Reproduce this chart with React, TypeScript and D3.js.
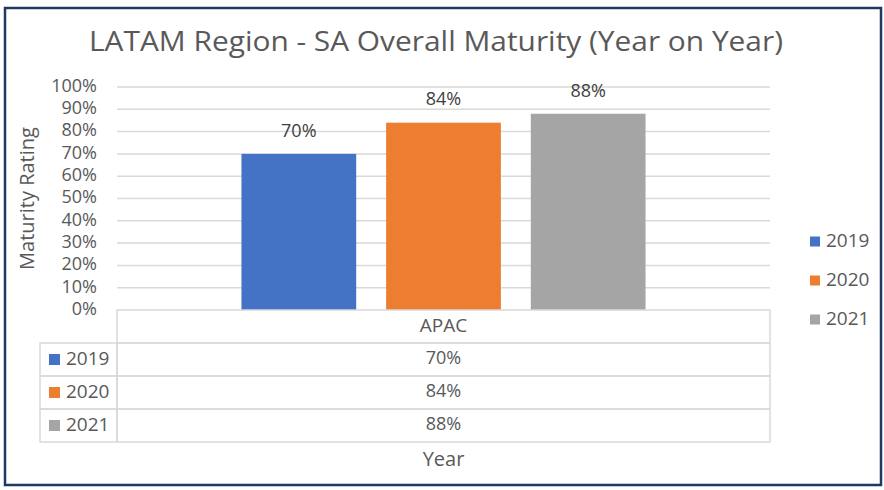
import { scaleBand, scaleLinear, range } from 'd3'

// Excel-style clustered column chart with a data table under the axis.

const categories = ['APAC']
const years = ['2019', '2020', '2021']
const values = [70, 84, 88]
const colors = ['#4472C4', '#ED7D31', '#A5A5A5']
const yTickValues = range(0, 101, 10)

const TEXT = '#595959'
const GRID = '#d9d9d9'
const FONT = '"Open Sans", sans-serif'

export default function App() {
  const W = 884
  const H = 490
  const plot = { left: 117, right: 770, top: 87, bottom: 310 }
  const y = scaleLinear().domain([0, 100]).range([plot.bottom, plot.top])
  const x0 = scaleBand().domain(categories).range([plot.left, plot.right]).paddingInner(0).paddingOuter(0.308)
  const x1 = scaleBand().domain(years).range([0, x0.bandwidth()]).paddingInner(0.207).paddingOuter(0)

  const rowH = 33
  const tableTop = plot.bottom
  const keyLeft = 40
  const rows = scaleBand().domain(['head', ...years]).range([tableTop, tableTop + rowH * 4])

  const legendY = scaleBand().domain(years).range([222, 339])

  return (
    <svg
      width={W}
      height={H}
      viewBox={`0 0 ${W} ${H}`}
      style={{ position: 'absolute', left: 0, top: 0, fontFamily: FONT }}
    >
      <rect x={0} y={0} width={W} height={H} fill="#fff" />
      <rect x={5} y={8} width={876} height={477} fill="#fff" stroke="#1f3864" strokeWidth={2.5} />

      <text x={436} y={51} textAnchor="middle" fill={TEXT} fontSize={28} textLength={694} lengthAdjust="spacingAndGlyphs">
        LATAM Region - SA Overall Maturity (Year on Year)
      </text>

      {yTickValues.map((t) => (
        <g key={t}>
          {t > 0 && (
            <line x1={plot.left} x2={plot.right} y1={y(t)} y2={y(t)} stroke={GRID} strokeWidth={1.5} />
          )}
          <text x={97} y={y(t)} textAnchor="end" dominantBaseline="middle" fill={TEXT} fontSize={18}>
            {t}%
          </text>
        </g>
      ))}

      <text
        transform={`translate(29, ${(plot.top + plot.bottom) / 2}) rotate(-90)`}
        textAnchor="middle"
        dominantBaseline="middle"
        fill={TEXT}
        fontSize={20}
      >
        Maturity Rating
      </text>

      {categories.map((c) =>
        years.map((yr, i) => {
          const bx = (x0(c) ?? 0) + (x1(yr) ?? 0)
          return (
            <g key={c + yr}>
              <rect x={bx} y={y(values[i])} width={x1.bandwidth()} height={plot.bottom - y(values[i])} fill={colors[i]} />
              <text x={bx + x1.bandwidth() / 2} y={y(values[i]) - 22} textAnchor="middle" dominantBaseline="middle" fill="#404040" fontSize={18}>
                {values[i]}%
              </text>
            </g>
          )
        })
      )}

      {/* data table */}
      <g stroke={GRID} strokeWidth={1.5} fill="none">
        <rect x={plot.left} y={rows('head')} width={plot.right - plot.left} height={rowH} />
        {years.map((yr) => (
          <g key={yr}>
            <rect x={keyLeft} y={rows(yr)} width={plot.left - keyLeft} height={rowH} />
            <rect x={plot.left} y={rows(yr)} width={plot.right - plot.left} height={rowH} />
          </g>
        ))}
      </g>
      {categories.map((c) => (
        <text key={c} x={(x0(c) ?? 0) + x0.bandwidth() / 2} y={(rows('head') ?? 0) + rowH / 2} textAnchor="middle" dominantBaseline="middle" fill={TEXT} fontSize={19}>
          {c}
        </text>
      ))}
      {years.map((yr, i) => {
        const cy = (rows(yr) ?? 0) + rowH / 2
        return (
          <g key={yr}>
            <rect x={49} y={cy - 5.5} width={11} height={11} fill={colors[i]} />
            <text x={66} y={cy} dominantBaseline="middle" fill={TEXT} fontSize={19}>
              {yr}
            </text>
            <text x={(plot.left + plot.right) / 2} y={cy} textAnchor="middle" dominantBaseline="middle" fill={TEXT} fontSize={18}>
              {values[i]}%
            </text>
          </g>
        )
      })}

      <text x={(plot.left + plot.right) / 2} y={461} textAnchor="middle" dominantBaseline="middle" fill={TEXT} fontSize={20}>
        Year
      </text>

      {years.map((yr, i) => {
        const cy = (legendY(yr) ?? 0) + legendY.bandwidth() / 2
        return (
          <g key={'lg' + yr}>
            <rect x={810} y={cy - 5} width={10} height={10} fill={colors[i]} />
            <text x={826} y={cy} dominantBaseline="middle" fill={TEXT} fontSize={19}>
              {yr}
            </text>
          </g>
        )
      })}
    </svg>
  )
}
